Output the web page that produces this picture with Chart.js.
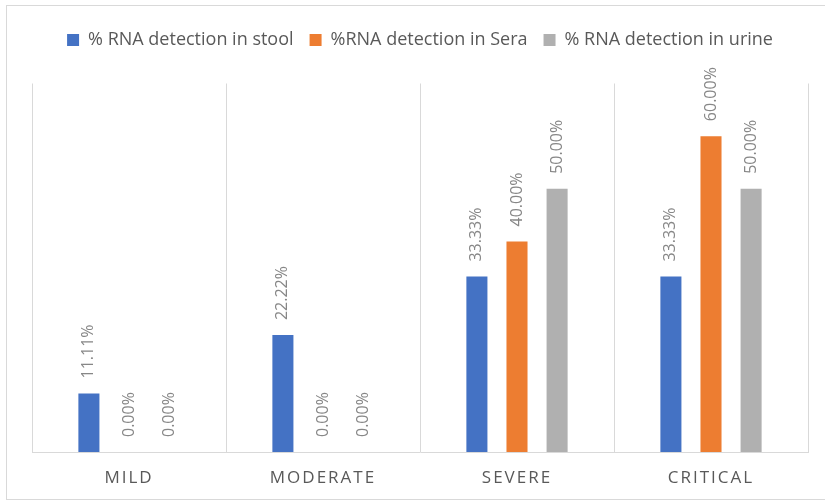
<!DOCTYPE html>
<html>
<head>
<meta charset="utf-8">
<script src="https://cdn.jsdelivr.net/npm/chart.js@4.4.1/dist/chart.umd.min.js"></script>
<style>
  html, body { margin: 0; padding: 0; background: #fff; overflow: hidden; }
  #frame { position: absolute; left: 6px; top: 5px; width: 830px; height: 493px; border: 1px solid #d9d9d9; }
  #wrap { position: absolute; left: 0; top: 0; width: 825px; height: 501px; }
</style>
</head>
<body>
<div id="frame"></div>
<div id="wrap"><canvas id="chart"></canvas></div>
<script>
var categories = ['Mild', 'Moderate', 'Severe', 'Critical'];
var stoolValues = [11.11, 22.22, 33.33, 33.33];
var seraValues = [0, 0, 40, 60];
var urineValues = [0, 0, 50, 50];
var seriesNames = ['% RNA detection in stool', '%RNA detection in Sera', '% RNA detection in urine'];

// category axis with letter spaced labels, like the original
class SpacedCategory extends Chart.CategoryScale {
    drawLabels(area) {
        this.ctx.save();
        this.ctx.letterSpacing = '2px';
        super.drawLabels(area);
        this.ctx.restore();
    }
}
SpacedCategory.id = 'spacedCategory';
Chart.register(SpacedCategory);

// value labels above the bars, turned upright
var barLabels = {
    id: 'barLabels',
    afterDatasetsDraw: function(chart) {
        var ctx = chart.ctx;
        ctx.save();
        ctx.font = '16px "Open Sans"';
        ctx.fillStyle = '#878787';
        ctx.textAlign = 'left';
        ctx.textBaseline = 'middle';
        chart.data.datasets.forEach(function(ds, i) {
            chart.getDatasetMeta(i).data.forEach(function(bar, j) {
                ctx.save();
                ctx.translate(bar.x, bar.y - 15);
                ctx.rotate(-Math.PI / 2);
                ctx.fillText(ds.data[j].toFixed(2) + '%', 0, 0);
                ctx.restore();
            });
        });
        ctx.restore();
    }
};

Chart.defaults.font.family = '"Open Sans"';

var ctx = document.getElementById('chart');
var myChart = new Chart(ctx, {
    type: 'bar',
    data: {
        labels: categories,
        datasets: [{
            label: seriesNames[0],
            data: stoolValues,
            backgroundColor: '#4472c4'
        }, {
            label: seriesNames[1],
            data: seraValues,
            backgroundColor: '#ed7d31'
        }, {
            label: seriesNames[2],
            data: urineValues,
            backgroundColor: '#b0b0b0'
        }]
    },
    plugins: [barLabels],
    options: {
        responsive: true,
        maintainAspectRatio: false,
        animation: false,
        categoryPercentage: 0.62,
        barPercentage: 0.525,
        layout: {
            padding: { left: 32, right: 17, top: 15, bottom: 0 }
        },
        plugins: {
            legend: {
                position: 'top',
                labels: {
                    boxWidth: 12,
                    boxHeight: 12,
                    padding: 16,
                    color: '#595959',
                    font: { size: 18 }
                }
            },
            // empty title used as a gap under the legend
            title: {
                display: true,
                text: '',
                weight: 500,
                font: { size: 1, lineHeight: 1 },
                padding: { top: 12, bottom: 11.5 }
            },
            tooltip: { enabled: false }
        },
        scales: {
            x: {
                type: 'spacedCategory',
                grid: {
                    offset: true,
                    drawTicks: false,
                    color: '#d9d9d9'
                },
                border: { color: '#d9d9d9' },
                ticks: {
                    color: '#595959',
                    padding: 16,
                    font: { size: 17 },
                    callback: function(v, i) { return categories[i].toUpperCase(); }
                },
                afterFit: function(scale) { scale.height = 49; }
            },
            y: {
                display: false,
                min: 0,
                max: 70
            }
        }
    }
});
</script>
</body>
</html>
